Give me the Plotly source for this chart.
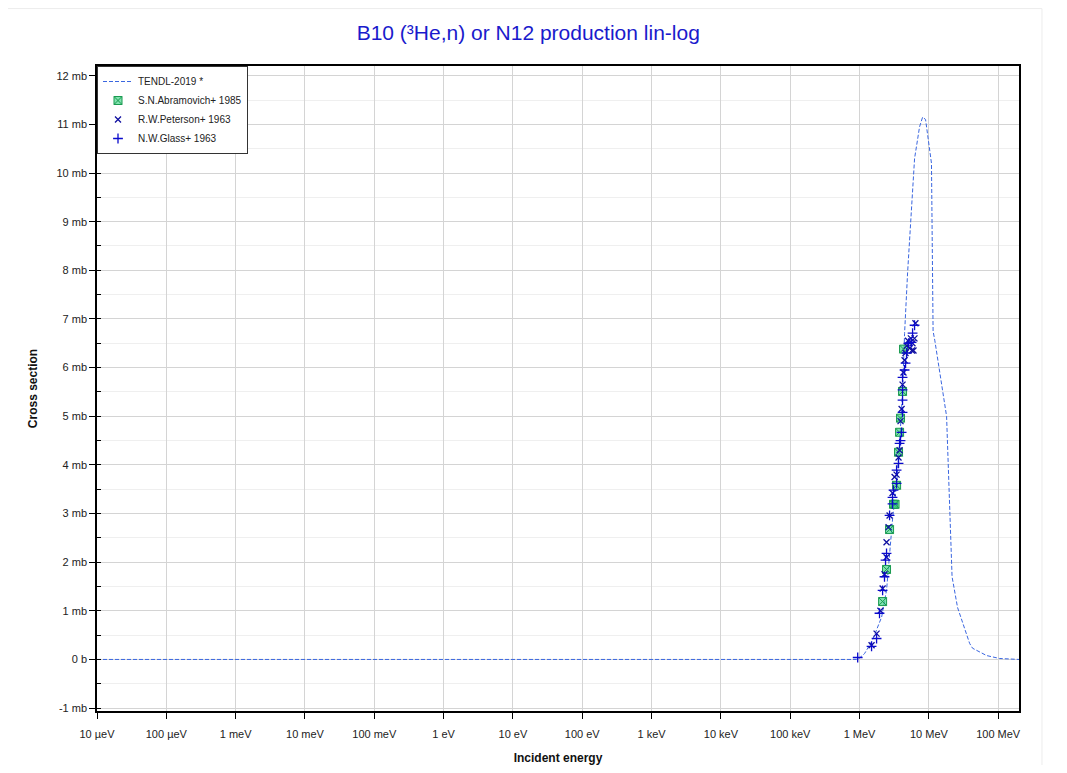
import plotly.graph_objects as go

# TENDL-2019 evaluated curve (energy in MeV, cross section in mb)
tendl_e = [1e-11, 0.1, 0.9, 1.0, 1.18, 1.54, 2.08, 2.45, 2.71, 3.0, 3.42, 3.78, 4.17,
           4.46, 4.93, 5.63, 6.22, 7.34, 8.12, 8.96, 10.2, 10.9, 11.5, 12.2, 18.0,
           20.8, 21.6, 25.9, 38.7, 42.7, 68.0, 104.0, 200.0]
tendl_xs = [0.0, 0.0, 0.0, 0.03, 0.12, 0.4, 0.87, 1.42, 2.1, 2.9, 3.6, 4.45, 5.5,
            6.7, 7.95, 9.45, 10.3, 10.95, 11.15, 11.1, 10.5, 10.2, 6.75, 6.55, 5.0,
            2.45, 1.7, 1.07, 0.33, 0.23, 0.08, 0.02, 0.0]

# S.N.Abramovich+ 1985
abr_e = [2.15, 2.45, 2.71, 3.09, 3.25, 3.42, 3.65, 3.78, 3.90, 4.17, 4.31]
abr_xs = [1.19, 1.85, 2.67, 3.19, 3.19, 3.58, 4.26, 4.67, 4.96, 5.51, 6.38]

# R.W.Peterson+ 1963
pet_e = [1.49, 1.76, 2.0, 2.15, 2.29, 2.45, 2.45, 2.62, 2.71, 2.99, 3.2, 3.42, 3.65,
         3.78, 3.9, 4.04, 4.17, 4.3, 4.46, 4.6, 4.8, 5.0, 5.3, 5.5, 5.7, 5.8, 6.0,
         6.2, 6.4]
pet_xs = [0.29, 0.53, 1.0, 1.46, 1.75, 2.1, 2.41, 2.72, 2.96, 3.42, 3.75, 3.8, 4.15,
          4.3, 4.9, 5.15, 5.65, 5.9, 6.15, 6.3, 6.45, 6.55, 6.4, 6.6, 6.35, 6.5, 6.35,
          6.6, 6.91]

# N.W.Glass+ 1963
gla_e = [0.94, 1.49, 1.76, 1.94, 2.15, 2.29, 2.37, 2.45, 2.71, 2.99, 2.99, 3.09, 3.42,
         3.42, 3.65, 3.78, 3.90, 4.04, 4.17, 4.17, 4.17, 4.17, 4.46, 4.61, 4.76, 5.10,
         5.63, 5.82, 6.22]
gla_xs = [0.04, 0.27, 0.43, 0.95, 1.42, 1.70, 2.04, 2.18, 2.96, 3.20, 3.33, 3.48, 3.62,
          3.89, 4.03, 4.44, 4.50, 4.67, 5.08, 5.33, 5.54, 5.80, 5.95, 6.09, 6.30, 6.50,
          6.52, 6.71, 6.87]

x_ticks = [1e-5, 1e-4, 1e-3, 1e-2, 1e-1, 1, 10, 100, 1e3, 1e4, 1e5, 1e6, 1e7, 1e8]
x_labels = ["10 µeV", "100 µeV", "1 meV", "10 meV", "100 meV", "1 eV", "10 eV",
            "100 eV", "1 keV", "10 keV", "100 keV", "1 MeV", "10 MeV", "100 MeV"]
y_ticks = list(range(-1, 13))
y_labels = ["-1 mb", "0 b"] + [f"{v} mb" for v in range(1, 13)]


def ev(vals):
    return [v * 1e6 for v in vals]


fig = go.Figure()
fig.add_trace(go.Scatter(
    x=ev(tendl_e), y=tendl_xs, mode="lines", name="TENDL-2019 *",
    line=dict(color="#3a66e0", width=1, dash="4px,2px"),
))
fig.add_trace(go.Scatter(
    x=ev(abr_e), y=abr_xs, mode="markers", name="S.N.Abramovich+ 1985",
    marker=dict(symbol="square-x", size=8, color="rgba(60,210,130,0.65)",
                line=dict(color="#1a9a50", width=1)),
))
fig.add_trace(go.Scatter(
    x=ev(pet_e), y=pet_xs, mode="markers", name="R.W.Peterson+ 1963",
    marker=dict(symbol="x-thin-open", size=6, color="#1010a0",
                line=dict(color="#1010a0", width=1.3)),
))
fig.add_trace(go.Scatter(
    x=ev(gla_e), y=gla_xs, mode="markers", name="N.W.Glass+ 1963",
    marker=dict(symbol="cross-thin-open", size=7, color="#0a0acc",
                line=dict(color="#0a0acc", width=1.3)),
))

# light container frame around the chart
fig.add_shape(type="rect", xref="paper", yref="paper",
              x0=-0.2, x1=1.0249, y0=-0.2, y1=1.089,
              line=dict(color="#ececec", width=1), layer="below")

fig.update_layout(
    width=1051, height=757,
    margin=dict(l=89, r=40, t=58, b=54, autoexpand=False),
    paper_bgcolor="white", plot_bgcolor="white",
    font=dict(family="Arial, Liberation Sans, sans-serif", size=11, color="#222222"),
    title=dict(text="B10 (³He,n) or N12 production lin-log", x=0.495, xanchor="center",
               y=0.967, yanchor="middle",
               font=dict(size=21, color="#1a1acc")),
    showlegend=True,
    legend=dict(x=0.0, y=1.0, xanchor="left", yanchor="top",
                bgcolor="white", bordercolor="#333333", borderwidth=1,
                font=dict(size=10, color="#222222"), tracegroupgap=0,
                itemwidth=30),
)
fig.update_xaxes(
    type="log", range=[-5, 8.3], tickvals=x_ticks, ticktext=x_labels,
    showgrid=True, gridcolor="#d4d4d4", gridwidth=1,
    showline=True, linecolor="black", linewidth=1.5, mirror=True,
    ticks="outside", ticklen=6, tickcolor="black", zeroline=False,
    ticklabelstandoff=6, automargin=False,
    title=dict(text="<b>Incident energy</b>", font=dict(size=12, color="#111111"),
               standoff=18),
)
fig.update_yaxes(
    range=[-1.06, 12.2], tickvals=y_ticks, ticktext=y_labels,
    showgrid=True, gridcolor="#d4d4d4", gridwidth=1,
    minor=dict(dtick=0.5, showgrid=True, gridcolor="#efefef", ticks="inside",
               ticklen=4, tickcolor="black"),
    showline=True, linecolor="black", linewidth=1.5, mirror=True,
    ticks="outside", ticklen=6, tickcolor="black", zeroline=False,
    automargin=False,
    title=dict(text="<b>Cross section</b>", font=dict(size=12, color="#111111"),
               standoff=16),
)

fig.write_html("out.html")
